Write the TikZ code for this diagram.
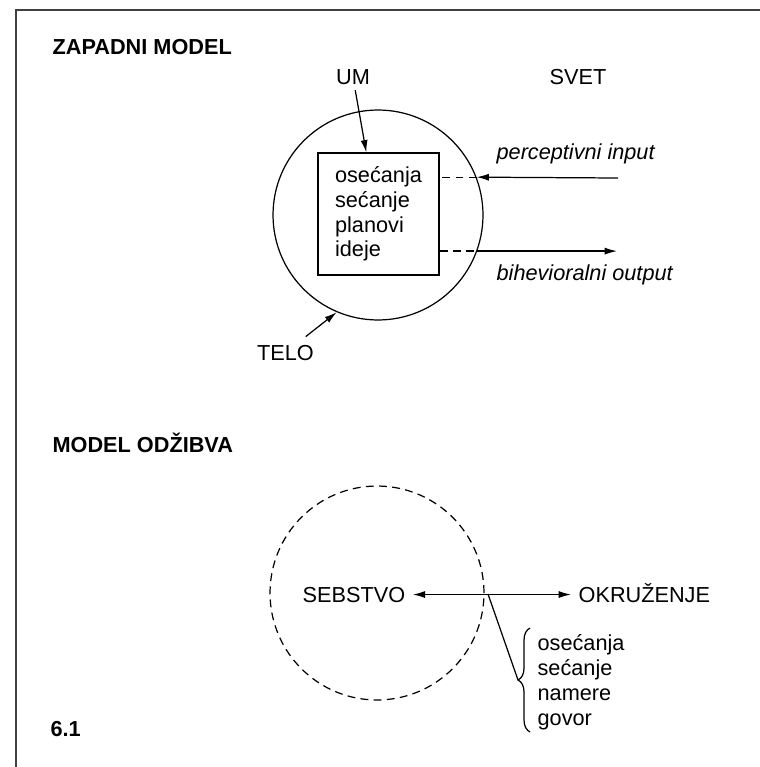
\documentclass[tikz,border=0pt]{standalone}
\usepackage{fontspec}
\setmainfont{Liberation Sans}
\usetikzlibrary{arrows.meta,calc,decorations.pathreplacing}

\newcommand{\txtsize}{\fontsize{12.35}{14.06}\selectfont}

\begin{document}
\begin{tikzpicture}[x=0.02cm, y=-0.02cm, line width=0.7pt, >={Latex[length=7pt,width=4pt]},
	every node/.style={font=\txtsize, inner sep=0pt},
	naslov/.style={anchor=base west, font=\txtsize\bfseries},
	crtice/.style={dash pattern=on 4.5pt off 3pt}]

\useasboundingbox (0,0) rectangle (760,767);

% okvir
\draw[line width=1.1pt, black!75] (16,767) |- (760,10);


% zapadni model
\node[naslov] (zapadni) at (52,55) {ZAPADNI MODEL};
\node[anchor=base] (um) at (353,85) {UM};
\node[anchor=base] (svet) at (578,85) {SVET};

\node[draw, circle, minimum size=4.2cm] (telo) at (378,215) {};
\node[draw, minimum width=2.42cm, minimum height=2.44cm, align=left] (umbox) at (378.5,214) {ose\'canja\\se\'canje\\planovi\\ideje};

\draw[->, shorten <=2.5pt] (um) -- ($(umbox.north west)!0.4!(umbox.north east)$);

\coordinate (ulaz) at (618,178);
\coordinate (izlaz) at (617,251);
\draw[->] (ulaz) -- (telo.21);
\draw[crtice] (telo.21) -- (umbox.east |- telo.21);
\draw[crtice] (umbox.east |- telo.-20) -- (telo.-20);
\draw[->] (telo.-20) -- (telo.-20 -| izlaz);

\node[anchor=base west, font=\txtsize\itshape] (perc) at (496,159) {perceptivni input};
\node[anchor=base west, font=\txtsize\itshape] (bihev) at (496,280) {bihevioralni output};

\node[anchor=base] (telolbl) at (285.5,360) {TELO};
\draw[->, shorten <=7pt] (telolbl) -- (telo.247);


% model odzibva
\node[naslov] (odzibva) at (52,452) {MODEL ODŽIBVA};
\node[draw, circle, crtice, minimum size=4.28cm] (sebkrug) at (377,593) {};

\node[anchor=base west, inner sep=4pt] (sebstvo) at (295,602) {SEBSTVO};
\node[anchor=base west, inner sep=4pt] (okruzenje) at (571,602) {OKRUŽENJE};
\draw[<->] (sebstvo.east) -- (okruzenje.west |- sebstvo.east);

\coordinate (presek) at (488,594);
\coordinate (vrh) at (518,680);
\draw[decorate, decoration={brace, amplitude=6.8pt}] (530,732) -- (530,628);
\draw (presek) -- (vrh);

\node[anchor=base west, align=left] (namere) at (537,725) {ose\'canja\\se\'canje\\namere\\govor};

\node[naslov] (broj) at (50,736) {6.1};

\end{tikzpicture}
\end{document}
